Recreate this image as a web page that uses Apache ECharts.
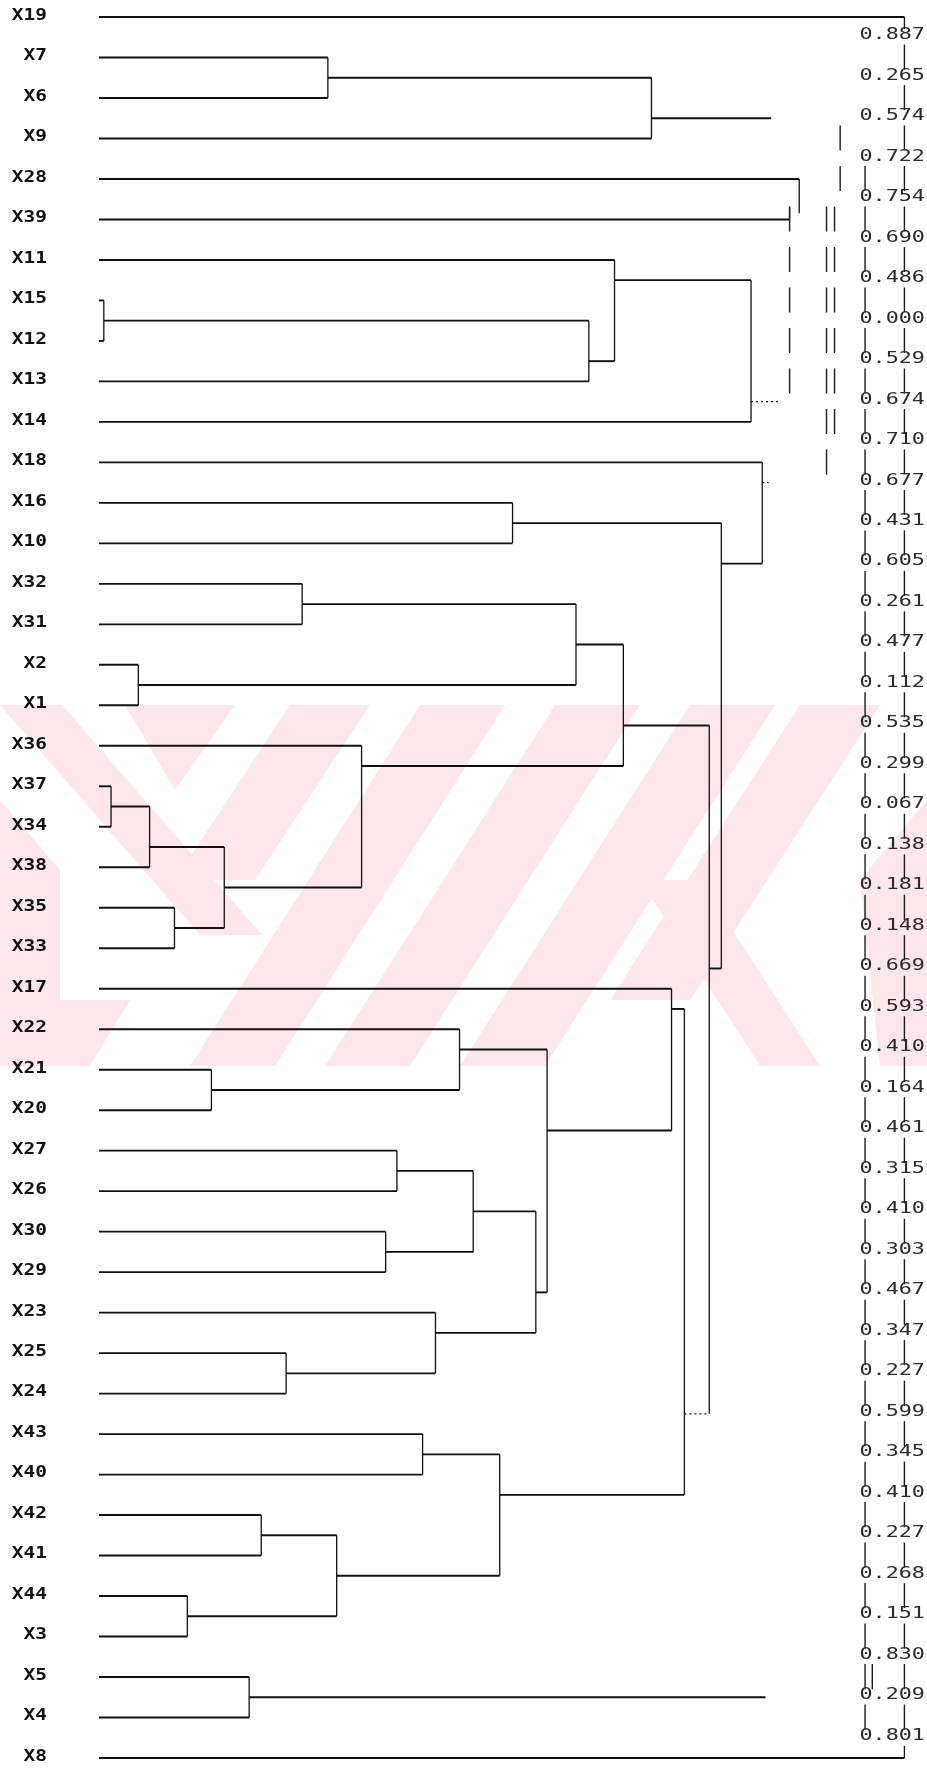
<!DOCTYPE html>
<html>
<head>
<meta charset="utf-8">
<script src="https://cdn.jsdelivr.net/npm/echarts/dist/echarts.min.js"></script>
<style>
  html, body { margin: 0; padding: 0; background: #ffffff; }
  #chart { width: 927px; height: 1768px; }
</style>
</head>
<body>
<div id="chart"></div>
<script>
// Leaves of the dendrogram, top to bottom
const leaves = ['X19','X7','X6','X9','X28','X39','X11','X15','X12','X13','X14','X18','X16','X10',
  'X32','X31','X2','X1','X36','X37','X34','X38','X35','X33','X17','X22','X21','X20','X27','X26',
  'X30','X29','X23','X25','X24','X43','X40','X42','X41','X44','X3','X5','X4','X8'];

// Printed coefficient between each pair of neighbouring leaves (gap g lies between leaf g and g+1)
const gapValues = [0.887,0.265,0.574,0.722,0.754,0.690,0.486,0.000,0.529,0.674,0.710,0.677,0.431,
  0.605,0.261,0.477,0.112,0.535,0.299,0.067,0.138,0.181,0.148,0.669,0.593,0.410,0.164,0.461,0.315,
  0.410,0.303,0.467,0.347,0.227,0.599,0.345,0.410,0.227,0.268,0.151,0.830,0.209,0.801];

// Joins: gap at which two neighbouring clusters merge, and the level (0-100) where the join is drawn
const joinGap   = [1, 2, 7, 8, 6, 9, 12, 14, 16, 15, 19, 20, 22, 21, 18, 17, 26, 25, 28, 30, 29, 33,
  32, 31, 27, 24, 35, 37, 39, 38, 36, 34, 23, 13, 11, 41];
const joinLevel = [28.5, 68.8, 0.6, 61.0, 64.2, 81.2, 51.5, 25.3, 4.9, 59.4, 1.5, 6.3, 9.4, 15.6,
  32.7, 65.3, 14.0, 44.9, 37.1, 35.7, 46.6, 23.3, 41.9, 54.4, 55.8, 71.3, 40.3, 20.2, 11.0, 29.6,
  49.9, 72.9, 76.0, 77.5, 82.6, 18.7];

// Open ends of the top clusters (leaf name or 'g'+gap), level they run to, and end tick in rows
const tailFrom = ['X19', 'g2', 'X28', 'X39', 'g9', 'g11', 'g41', 'X8'];
const tailTo   = [100.3, 83.7, 87.2, 86.0, 84.6, 83.4, 83.0, 100.3];
const tailTick = [0.3, 0, 0.85, -0.3, 0, 0, 0, -0.3];

// Broken vertical connectors printed as short bars, one bar per leaf row
const barLevel = [100.3, 95.4, 96.3, 86.0, 90.6, 91.6, 90.6, 92.3];
const barFirst = [1, 4, 41, 5, 5, 5, 11, 3];
const barLast  = [42, 42, 41, 9, 10, 10, 11, 4];

// ---- geometry in data units (x = drawing level, y = leaf row) ----
const faintArms = new Set([23]);      // joins whose lower arm prints faint and dotted
const dottedTails = new Set(['g9', 'g11']);

const owner = leaves.map((name, r) => ({ level: 0, y: r, lo: r, hi: r }));
const nodes = {};
leaves.forEach((name, r) => { nodes[name] = owner[r]; });
const order = joinGap.map((_, k) => k).sort((a, b) => joinLevel[a] - joinLevel[b]);
const hPaths = [];
const vPaths = [];
const dottedPaths = [];
order.forEach(k => {
  const g = joinGap[k], lv = joinLevel[k];
  const L = owner[g], R = owner[g + 1];
  hPaths.push([[L.level, L.y], [lv, L.y]]);
  (faintArms.has(g) ? dottedPaths : hPaths).push([[R.level, R.y], [lv, R.y]]);
  vPaths.push([[lv, L.y], [lv, R.y]]);
  const node = { level: lv, y: g + 0.5, lo: L.lo, hi: R.hi };
  for (let r = node.lo; r <= node.hi; r++) owner[r] = node;
  nodes['g' + g] = node;
});
tailFrom.forEach((key, i) => {
  const n = nodes[key];
  const seg = [[n.level, n.y], [tailTo[i], n.y]];
  if (dottedTails.has(key)) { dottedPaths.push(seg); return; }
  hPaths.push(seg);
  if (tailTick[i]) vPaths.push([[tailTo[i], n.y], [tailTo[i], n.y + tailTick[i]]]);
});
const barPaths = [];
barLevel.forEach((lv, i) => {
  for (let r = barFirst[i]; r <= barLast[i]; r++) barPaths.push([[lv, r - 0.32], [lv, r + 0.3]]);
});

function pathSeries(paths, style) {
  return {
    type: 'custom', coordinateSystem: 'cartesian2d', clip: false, silent: true, z: 3,
    data: paths.map((_, i) => [i, 0]),
    renderItem: (params, api) => ({
      type: 'polyline',
      shape: { points: paths[params.dataIndex].map(p => api.coord(p)) },
      style: Object.assign({ fill: null, stroke: '#111111', lineWidth: 1.6 }, style)
    })
  };
}

function textSeries(items, opts) {
  return {
    type: 'custom', coordinateSystem: 'cartesian2d', clip: false, silent: true, z: 4,
    data: items.map((_, i) => [i, 0]),
    renderItem: (params, api) => {
      const it = items[params.dataIndex];
      const p = api.coord([it.x, it.y]);
      return {
        type: 'text', x: p[0] + opts.dx, y: p[1] + opts.dy, scaleX: opts.scaleX,
        style: {
          text: it.text, fill: opts.color, align: opts.align, verticalAlign: 'middle',
          font: opts.font
        }
      };
    }
  };
}

const leafLabels = leaves.map((name, r) => ({ x: 0, y: r, text: name }));
const gapLabels = gapValues.map((v, g) => ({ x: 94.7, y: g + 0.5, text: v.toFixed(3) }));

// light pink watermark band behind the tree
const pink = '#fde7eb';
const wmPolys = [
  [[0,705],[62,705],[262,935],[200,935]],
  [[125,705],[235,705],[175,790]],
  [[290,705],[370,705],[255,880],[175,880]],
  [[420,705],[505,705],[275,1066],[190,1066]],
  [[555,705],[640,705],[410,1066],[325,1066]],
  [[690,705],[775,705],[545,1066],[460,1066]],
  [[0,800],[60,870],[60,1066],[0,1066]],
  [[60,1000],[130,1000],[90,1066],[20,1066]],
  [[640,880],[700,880],[820,1066],[760,1066]],
  [[800,705],[880,705],[690,1000],[610,1000]],
  [[860,880],[927,800],[927,1066],[880,1066]]
];

const chart = echarts.init(document.getElementById('chart'), null, { renderer: 'canvas' });
chart.setOption({
  animation: false,
  backgroundColor: '#ffffff',
  grid: { left: 99, right: 25, top: 17, bottom: 10 },
  xAxis: { type: 'value', min: 0, max: 100, show: false },
  yAxis: { type: 'value', min: 0, max: leaves.length - 1, inverse: true, show: false },
  graphic: wmPolys.map(pts => ({
    type: 'polygon', z: 0, silent: true,
    shape: { points: pts }, style: { fill: pink }
  })),
  series: [
    pathSeries(hPaths, { lineWidth: 1.9 }),
    pathSeries(vPaths, { lineWidth: 1.3 }),
    pathSeries(dottedPaths, { lineWidth: 1.2, lineDash: [2, 3] }),
    pathSeries(barPaths, { lineWidth: 1.4, stroke: '#1a1a1a' }),
    textSeries(leafLabels, { dx: -52, dy: -1, scaleX: 1.3, color: '#111111', align: 'right',
      font: 'bold 15px "DejaVu Sans Mono", monospace' }),
    textSeries(gapLabels, { dx: 0, dy: -2, scaleX: 1.45, color: '#2a2a2a', align: 'left',
      font: '15px "DejaVu Sans Mono", monospace' })
  ]
});
</script>
</body>
</html>
